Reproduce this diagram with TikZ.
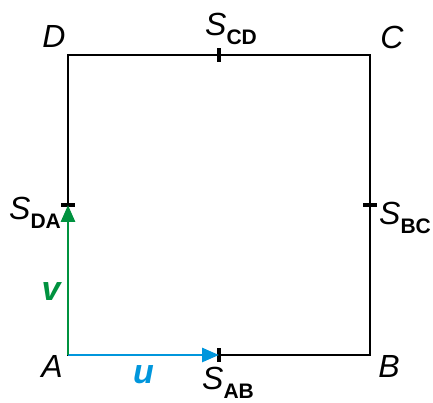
\documentclass[tikz,border=0pt]{standalone}
\usepackage{fontspec}
\setmainfont{Liberation Sans}
\usetikzlibrary{arrows.meta,positioning,calc}

\definecolor{vecblue}{RGB}{0,150,220}
\definecolor{vecgreen}{RGB}{0,146,63}

\newcommand{\midlab}[1]{\textit{S}\raisebox{-0.28em}{\fontsize{21}{21}\selectfont\bfseries #1}}

\begin{document}
\begin{tikzpicture}[x=1pt, y=1pt,
    side/.style={line width=2.8pt, line join=miter},
    midtick/.style={line width=3.2pt},
    vec/.style={line width=2.8pt, -{Triangle[length=17pt,width=14pt]}},
    lab/.style={inner sep=0pt, font=\fontsize{32}{34}\selectfont},
    veclab/.style={inner sep=0pt, font=\fontsize{34}{36}\selectfont\bfseries\itshape}
]
\useasboundingbox (0,0) rectangle (433,403);

% corners and midpoints
\coordinate (A) at (68,48);
\coordinate (B) at (370,48);
\coordinate (C) at (370,348);
\coordinate (D) at (68,348);
\coordinate (sAB) at ($(A)!0.5!(B)$);
\coordinate (sBC) at ($(B)!0.5!(C)$);
\coordinate (sCD) at ($(C)!0.5!(D)$);
\coordinate (sDA) at ($(D)!0.5!(A)$);

% square
\draw[side] (A) -- (B) -- (C) -- (D) -- cycle;
\draw[midtick] ([yshift=-7]sAB) -- ([yshift=7]sAB);
\draw[midtick] ([yshift=-7]sCD) -- ([yshift=7]sCD);
\draw[midtick] ([xshift=-7]sBC) -- ([xshift=7]sBC);
\draw[midtick] ([xshift=-7]sDA) -- ([xshift=7]sDA);

% vectors
\draw[vec, vecblue] (A) -- (sAB)
    node[veclab, midway, below=9pt] (u) {u};
\draw[vec, vecgreen] (A) -- (sDA)
    node[veclab, pos=0.42, left=6pt] (v) {v};

% labels
\node[lab] (lA) at ([shift={(-16,-11)}]A) {\textit{A}};
\node[lab] (lB) at ([shift={(19,-11)}]B) {\textit{B}};
\node[lab] (lC) at ([shift={(22,18)}]C) {\textit{C}};
\node[lab] (lD) at ([shift={(-14,18)}]D) {\textit{D}};
\node[lab, anchor=base west] (lsAB) at ([shift={(-17,-35)}]sAB) {\midlab{AB}};
\node[lab, anchor=base west] (lsBC) at ([shift={(9,-20)}]sBC) {\midlab{BC}};
\node[lab, anchor=base west] (lsCD) at ([shift={(-14,19)}]sCD) {\midlab{CD}};
\node[lab, anchor=base west] (lsDA) at ([shift={(-59,-15)}]sDA) {\midlab{DA}};
\end{tikzpicture}
\end{document}
